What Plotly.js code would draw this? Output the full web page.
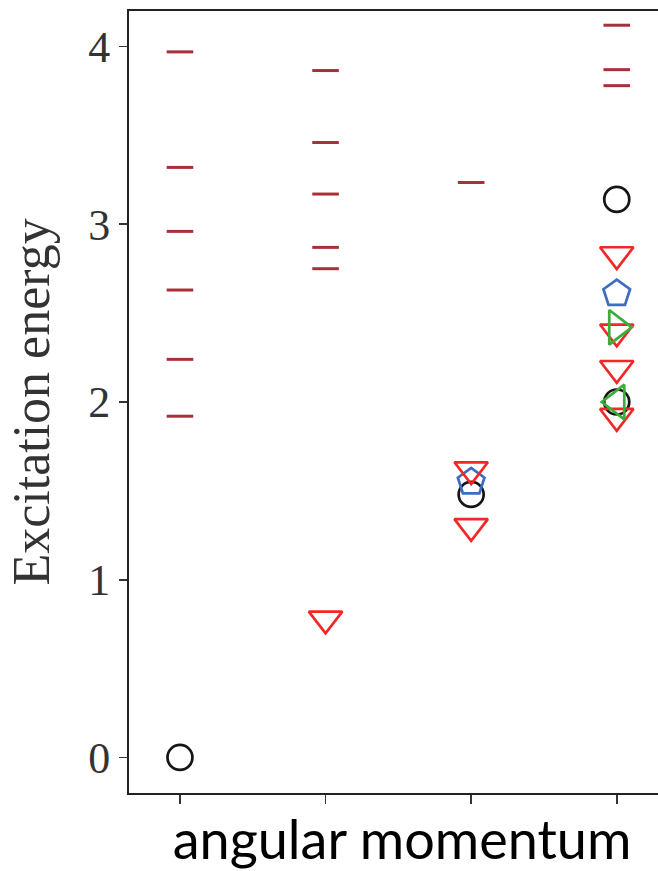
<!DOCTYPE html>
<html>
<head>
<meta charset="utf-8">
<script src="https://cdn.plot.ly/plotly-3.0.1.min.js"></script>
<style>html,body{margin:0;padding:0;background:#fff;overflow:hidden;width:658px;height:871px;}</style>
</head>
<body>
<div id="chart" style="width:675px;height:871px;"></div>
<script>
// angular momentum columns (0..3) and excitation energies
const columns = [0, 1, 2, 3];

// experimental levels (short dashes)
const levelX = [0, 0, 0, 0, 0, 0, 1, 1, 1, 1, 1, 2, 3, 3, 3];
const levelE = [3.97, 3.32, 2.96, 2.63, 2.24, 1.92, 3.865, 3.46, 3.17, 2.87, 2.75, 3.235, 4.12, 3.87, 3.78];

// black circles
const circleX = [0, 2, 3, 3];
const circleE = [0.0, 1.48, 3.14, 2.0];

// blue pentagons
const pentX = [2, 3];
const pentE = [1.55, 2.61];

// red down-triangles
const triX = [1, 2, 2, 3, 3, 3, 3];
const triE = [0.78, 1.62, 1.30, 2.83, 2.395, 2.19, 1.92];

// green triangles
const greenRX = [3];
const greenRE = [2.42];
const greenLX = [3];
const greenLE = [2.0];

const yTicks = [0, 1, 2, 3, 4];

const traces = [
  {x: levelX, y: levelE, type: 'scatter', mode: 'markers', hoverinfo: 'skip',
   marker: {symbol: 'line-ew', size: 19, line: {color: '#a8303a', width: 3}}},
  {x: circleX, y: circleE, type: 'scatter', mode: 'markers',
   marker: {symbol: 'circle-open', size: 25, line: {color: '#151515', width: 2.7}, color: '#151515'}},
  {x: pentX, y: pentE, type: 'scatter', mode: 'markers',
   marker: {symbol: 'pentagon-open', size: 28, line: {color: '#3d6dc0', width: 2.7}, color: '#3d6dc0'}},
  {x: triX, y: triE, type: 'scatter', mode: 'markers',
   marker: {symbol: 'triangle-down-open', size: 29, line: {color: '#f02828', width: 2.7}, color: '#f02828'}},
  {x: greenRX, y: greenRE, type: 'scatter', mode: 'markers',
   marker: {symbol: 'triangle-right-open', size: 30, line: {color: '#3aad3a', width: 2.7}, color: '#3aad3a'}},
  {x: greenLX, y: greenLE, type: 'scatter', mode: 'markers',
   marker: {symbol: 'triangle-left-open', size: 30, line: {color: '#3aad3a', width: 2.7}, color: '#3aad3a'}}
];

const layout = {
  width: 675, height: 871,
  margin: {l: 129, r: 0, t: 11, b: 78, pad: 0},
  paper_bgcolor: '#ffffff', plot_bgcolor: '#ffffff',
  showlegend: false,
  xaxis: {
    range: [-0.35, 3.40], tickvals: columns, showticklabels: false,
    ticks: 'outside', ticklen: 9, tickwidth: 1.6, tickcolor: '#333',
    showline: true, linecolor: '#222', linewidth: 2, mirror: true,
    showgrid: false, zeroline: false, fixedrange: true,
    title: {text: 'angular momentum', standoff: 19,
            font: {family: 'Lato, "Open Sans", sans-serif', size: 54, color: '#000'}}
  },
  yaxis: {
    range: [-0.2, 4.2], tickvals: yTicks, ticktext: yTicks.map(String),
    ticks: 'outside', ticklen: 8, tickwidth: 1.6, tickcolor: '#333',
    tickfont: {family: '"Liberation Serif", serif', size: 44, color: '#333'},
    showline: true, linecolor: '#222', linewidth: 2, mirror: false,
    showgrid: false, zeroline: false, fixedrange: true,
    title: {text: 'Excitation energy', standoff: 22,
            font: {family: '"Liberation Serif", serif', size: 52, color: '#333'}}
  }
};

Plotly.newPlot('chart', traces, layout, {displayModeBar: false, staticPlot: true});
</script>
</body>
</html>
